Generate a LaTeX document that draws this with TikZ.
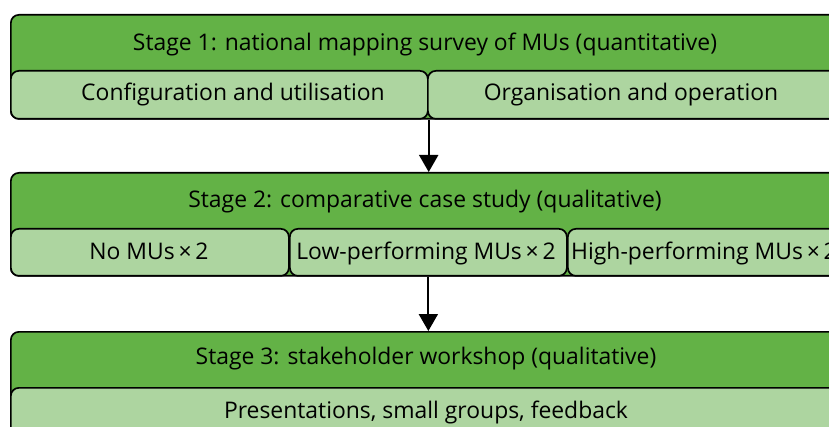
\documentclass[tikz,border=0pt]{standalone}
\usepackage{fontspec}
\setmainfont{Open Sans}
\usetikzlibrary{arrows.meta}
\definecolor{dkgreen}{HTML}{63B246}
\definecolor{ltgreen}{HTML}{ADD5A0}
\begin{document}
\begin{tikzpicture}[x=1pt,y=-1pt,
  stagebox/.style={draw, line width=1.7pt, rounded corners=8pt, fill=dkgreen, anchor=north west, inner sep=0pt},
  subbox/.style={draw, line width=1.7pt, rounded corners=8pt, fill=ltgreen, anchor=north west, inner sep=0pt},
  lbl/.style={font=\fontsize{22.9}{24}\selectfont, text=black, inner sep=0pt, anchor=base},
  flow/.style={-{Triangle[length=17pt,width=19pt]}, line width=2pt}]
\useasboundingbox (0,0) rectangle (829,427);
\clip (0,0) rectangle (829,427);
% Stage 1
\node[stagebox, minimum width=834pt, minimum height=104pt] (s1) at (10,14) {};
\node[lbl] (s1t) at (425,50.5) {Stage 1: national mapping survey of MUs (quantitative)};
\node[subbox, minimum width=417pt, minimum height=48pt] (s1a) at (10,70) {};
\node[subbox, minimum width=417pt, minimum height=48pt] (s1b) at (427,70) {};
\node[lbl] (s1at) at (233,100.5) {Configuration and utilisation};
\node[lbl] (s1bt) at (631,100.5) {Organisation and operation};
% Stage 2
\node[stagebox, minimum width=834pt, minimum height=103pt] (s2) at (10,172) {};
\node[lbl] (s2t) at (425,207.5) {Stage 2: comparative case study (qualitative)};
\node[subbox, minimum width=278pt, minimum height=47pt] (s2a) at (10,228) {};
\node[subbox, minimum width=277pt, minimum height=47pt] (s2b) at (289,228) {};
\node[subbox, minimum width=290pt, minimum height=47pt] (s2c) at (567,228) {};
\node[lbl] (s2at) at (149,260) {No MUs\,\texttimes\,2};
\node[lbl] (s2bt) at (426,260) {Low-performing MUs\,\texttimes\,2};
\node[lbl] (s2ct) at (704,260) {High-performing MUs\,\texttimes\,2};
% Stage 3
\node[stagebox, minimum width=834pt, minimum height=120pt] (s3) at (10,331) {};
\node[lbl] (s3t) at (426,364.5) {Stage 3: stakeholder workshop (qualitative)};
\node[subbox, minimum width=834pt, minimum height=60pt] (s3a) at (10,387) {};
\node[lbl] (s3at) at (426,418) {Presentations, small groups, feedback};
% Arrows
\draw[flow] (s1a.south east) -- (s1a.south east |- s2.north);
\draw[flow] (s2b.south) -- (s2b.south |- s3.north);
\end{tikzpicture}
\end{document}
